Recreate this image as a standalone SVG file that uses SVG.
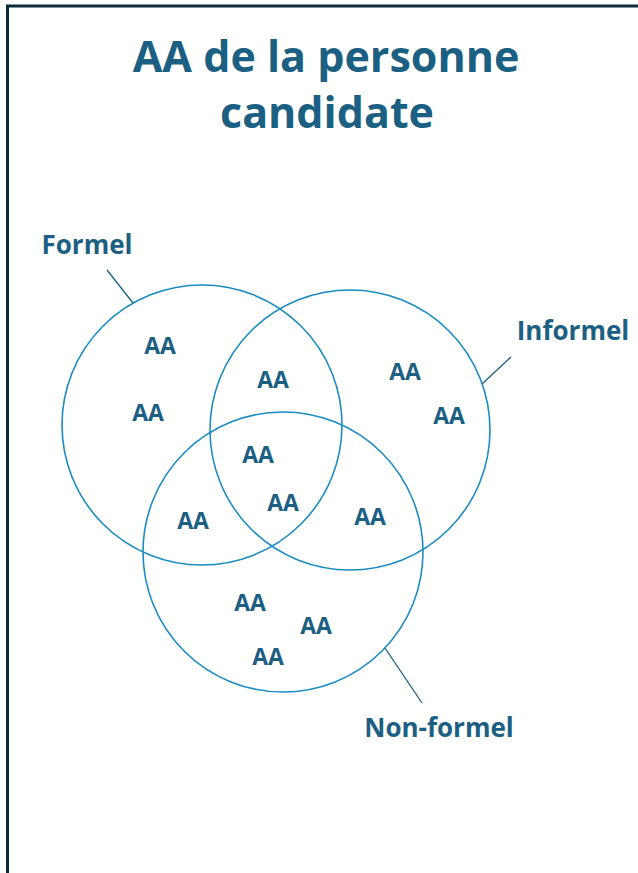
<svg xmlns="http://www.w3.org/2000/svg" width="638" height="873" viewBox="0 0 638 873">
<style>
.t{font-family:"Open Sans","Liberation Sans",sans-serif;font-weight:700;fill:#1b6083;text-anchor:middle}
.title{font-size:43px}
.lbl{font-size:26px}
.aa{font-size:23px}
.c{fill:none;stroke:#1a8cc0;stroke-width:1.6}
.ld{stroke:#1b5e80;stroke-width:1.3}
</style>
<rect width="638" height="873" fill="#ffffff"/>
<g id="frame"><path d="M7.5 873 V6 H638" fill="none" stroke="#0b2a3c" stroke-width="3"/></g>
<g id="title"><text class="t title" x="326" y="72">AA de la personne</text><text class="t title" x="327" y="128">candidate</text></g>
<g id="formel"><circle class="c" cx="202" cy="425" r="140"/><text class="t lbl" x="87" y="254">Formel</text></g>
<g id="informel"><circle class="c" cx="350" cy="430" r="140"/><text class="t lbl" x="573" y="340">Informel</text></g>
<g id="nonformel"><circle class="c" cx="283" cy="552" r="140"/><text class="t lbl" x="439" y="737">Non-formel</text></g>
<g id="connectors">
<line class="ld" x1="107" y1="270" x2="133" y2="303"/>
<line class="ld" x1="511" y1="357" x2="482" y2="384"/>
<line class="ld" x1="385" y1="648" x2="422" y2="703"/>
</g>
<g id="items">
<text class="t aa" x="160" y="354">AA</text>
<text class="t aa" x="148" y="421">AA</text>
<text class="t aa" x="273" y="388">AA</text>
<text class="t aa" x="405" y="380">AA</text>
<text class="t aa" x="449" y="424">AA</text>
<text class="t aa" x="258" y="463">AA</text>
<text class="t aa" x="283" y="511">AA</text>
<text class="t aa" x="193" y="529">AA</text>
<text class="t aa" x="370" y="525">AA</text>
<text class="t aa" x="250" y="611">AA</text>
<text class="t aa" x="316" y="634">AA</text>
<text class="t aa" x="268" y="665">AA</text>
</g>
</svg>
